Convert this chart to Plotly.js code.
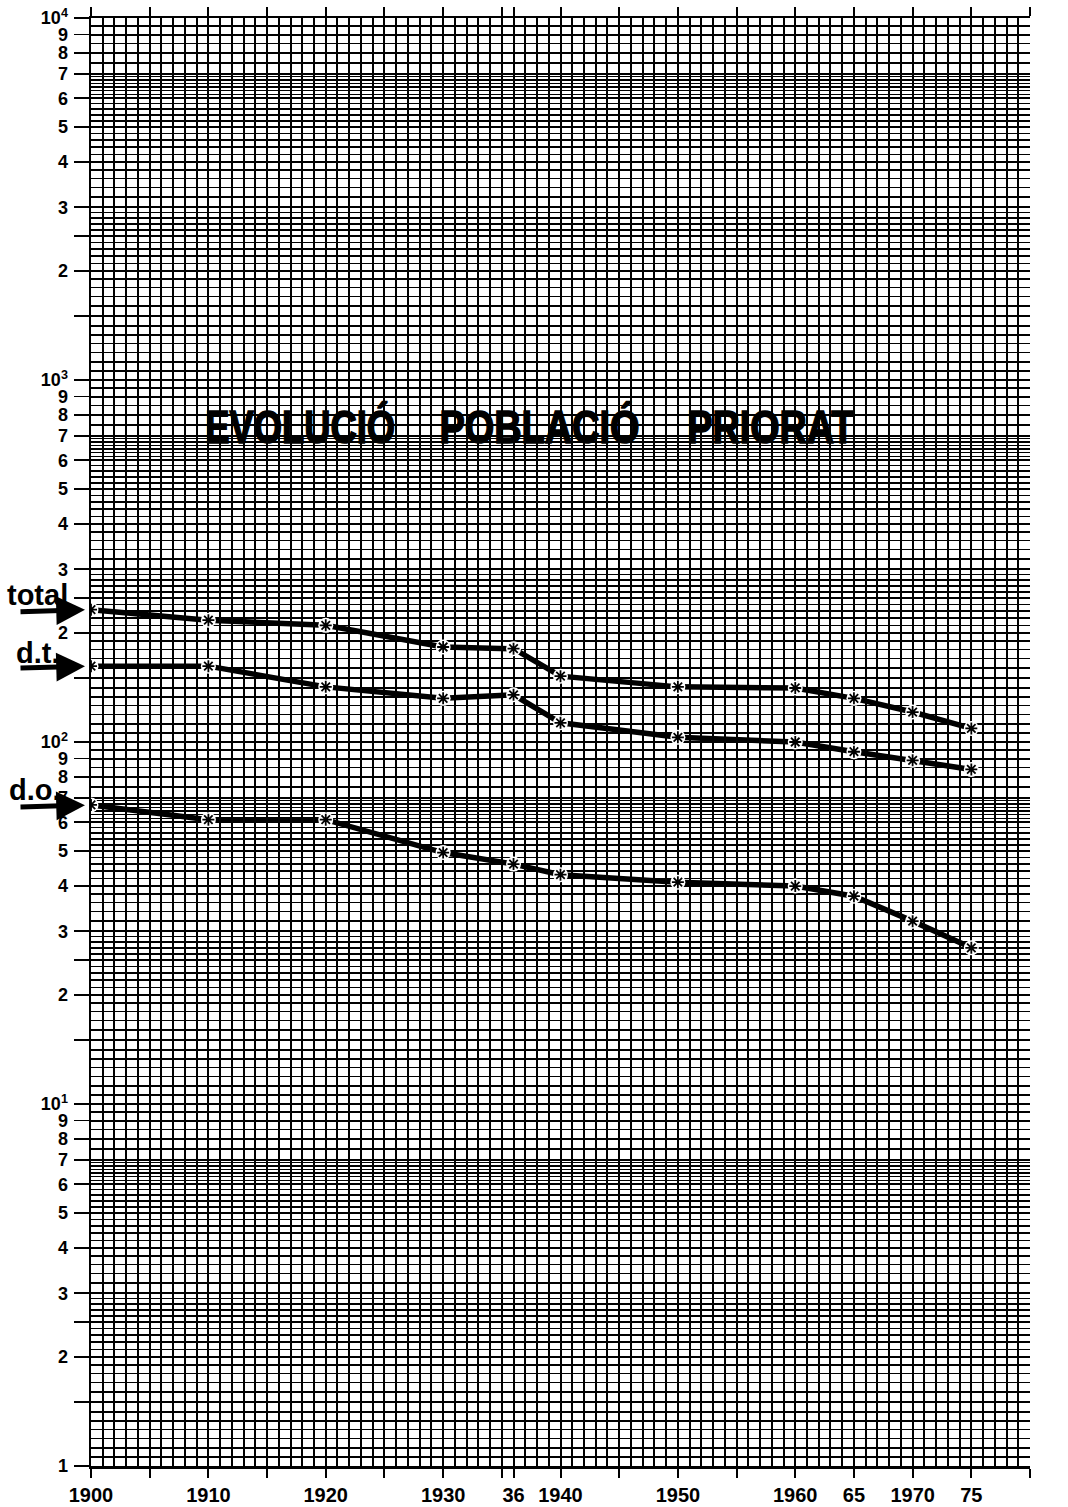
<!DOCTYPE html>
<html><head><meta charset="utf-8">
<script src="https://cdn.plot.ly/plotly-3.0.1.min.js"></script>
<style>html,body{margin:0;padding:0;background:#fff}</style>
</head><body><div id="chart" style="width:1068px;height:1507px"></div>
<script>
// ---- data ----
const years    = [1900, 1910, 1920, 1930, 1936, 1940, 1950, 1960, 1965, 1970, 1975];
const totalPop = [232, 217, 210, 183, 181, 152, 142, 141, 132, 121, 109];
const dtPop    = [162, 162, 142, 132, 135, 113, 103, 100, 94, 89, 84];
const doPop    = [67, 61, 61, 49.5, 46, 43, 41, 40, 37.5, 32, 27];
const seriesLabels = ['total', 'd.t.', 'd.o.'];
const seriesValues = [totalPop, dtPop, doPop];

const xTickVals = [1900,1905,1910,1915,1920,1925,1930,1935,1936,1940,1945,1950,1955,1960,1965,1970,1975,1980];
const xTickText = ['1900','','1910','','1920','','1930','','36','1940','','1950','','1960','65','1970','75',''];
const titleWords = ['EVOLUCIÓ', 'POBLACIÓ', 'PRIORAT'];
const titleWordWidths = [190, 200, 167];
const titleWordX = [0.2226, 0.478, 0.724];
const decadeLabels = ['1', '10<sup>1</sup>', '10<sup>2</sup>', '10<sup>3</sup>', '10<sup>4</sup>'];
const majorMant = [1, 1.5, 2, 2.5, 3, 4, 5, 6, 7, 8, 9];
const minorMant = [1.06,1.12,1.19,1.26,1.33,1.41,1.6,1.7,1.8,1.9,
                   2.1,2.2,2.3,2.4,2.6,2.7,2.8,2.9,
                   3.2,3.4,3.6,3.8,4.2,4.4,4.6,4.8,5.2,5.4,5.6,5.8,
                   6.15,6.3,6.45,6.6,6.75,6.9,7.5,8.5,9.5];

// ---- build y ticks (graph paper) ----
const yTickVals = [], yTickText = [], yMinor = [];
for (let k = 0; k < 4; k++) {
  const base = Math.pow(10, k);
  majorMant.forEach(m => {
    yTickVals.push(+(m * base).toPrecision(6));
    if (m === 1) yTickText.push(decadeLabels[k]);
    else if (m === 1.5 || m === 2.5) yTickText.push('');
    else yTickText.push(String(m));
  });
  minorMant.forEach(m => yMinor.push(+(m * base).toPrecision(6)));
}
yTickVals.push(10000); yTickText.push(decadeLabels[4]);

const FONT = 'Liberation Sans, Arial, Helvetica, sans-serif';

const traces = [];
seriesValues.forEach((vals, i) => {
  traces.push({
    x: years, y: vals, type: 'scatter', mode: 'lines+markers',
    line: {color: '#000', width: 5.5},
    marker: {symbol: 'circle', size: 15, color: '#fff', line: {width: 0}},
    hoverinfo: 'skip', showlegend: false
  });
  traces.push({
    x: years, y: vals, type: 'scatter', mode: 'markers',
    marker: {symbol: 'asterisk-open', size: 10, color: '#000', line: {width: 1.8, color: '#000'}},
    hoverinfo: 'skip', showlegend: false
  });
});

const annotations = [];
titleWords.forEach((w, i) => annotations.push({
  xref: 'paper', yref: 'paper', x: titleWordX[i], y: 0.7175, text: w, showarrow: false,
  xanchor: 'center', yanchor: 'middle',
  font: {family: FONT, size: 46, color: '#000', weight: 700}
}));
const labelShiftX = [-54, -53, -56];
const labelShiftY = [15, 13, 15];
seriesLabels.forEach((lab, i) => {
  annotations.push({
    xref: 'x', yref: 'y', x: years[0], y: Math.log10(seriesValues[i][0]),
    text: lab, showarrow: false, xanchor: 'center', yanchor: 'middle',
    xshift: labelShiftX[i], yshift: labelShiftY[i],
    font: {family: FONT, size: 29, color: '#000', weight: 700}
  });
  annotations.push({
    xref: 'x', yref: 'y', x: years[0], y: Math.log10(seriesValues[i][0]),
    text: '', showarrow: true, ax: -72, ay: 2, arrowhead: 2, arrowsize: 1.15,
    arrowwidth: 5, arrowcolor: '#000', standoff: 6
  });
});

const layout = {
  width: 1068, height: 1507,
  margin: {l: 91, r: 38, t: 18, b: 41},
  paper_bgcolor: '#fff', plot_bgcolor: '#fff',
  showlegend: false,
  xaxis: {
    range: [1900, 1980], tickmode: 'array', tickvals: xTickVals, ticktext: xTickText,
    ticks: 'outside', ticklen: 9, tickwidth: 2, tickcolor: '#000',
    showline: true, linecolor: '#000', linewidth: 2.5, mirror: 'ticks',
    showgrid: false,
    minor: {tickmode: 'linear', tick0: 1900, dtick: 1, showgrid: true, gridcolor: '#000', gridwidth: 2, ticks: ''},
    tickfont: {family: FONT, size: 20, color: '#000', weight: 700},
    zeroline: false, fixedrange: true
  },
  yaxis: {
    type: 'log', range: [0, 4], tickmode: 'array', tickvals: yTickVals, ticktext: yTickText,
    ticks: 'outside', ticklen: 15, tickwidth: 1.8, tickcolor: '#000', ticklabelstandoff: 2,
    showline: true, linecolor: '#000', linewidth: 2.5,
    showgrid: true, gridcolor: '#000', gridwidth: 2,
    minor: {tickmode: 'array', tickvals: yMinor, showgrid: true, gridcolor: '#000', gridwidth: 1.6, ticks: ''},
    tickfont: {family: FONT, size: 18, color: '#000', weight: 700},
    zeroline: false, fixedrange: true
  },
  yaxis2: {
    type: 'log', range: [0, 4], overlaying: 'y', side: 'right', anchor: 'x',
    tickmode: 'array', tickvals: yTickVals, ticktext: yTickText,
    ticks: 'outside', ticklen: 14, tickwidth: 1.8, tickcolor: '#000', ticklabelstandoff: 2,
    showline: true, linecolor: '#000', linewidth: 2.5, showgrid: false,
    tickfont: {family: FONT, size: 18, color: '#000', weight: 700},
    zeroline: false, fixedrange: true
  },
  annotations: annotations
};

Plotly.newPlot('chart', traces, layout, {staticPlot: true, displayModeBar: false}).then(gd => {
  // condense and embolden the title words like the reference's heavy narrow lettering
  const groups = gd.querySelectorAll('.annotation');
  groups.forEach(g => {
    const idx = +g.getAttribute('data-index');
    if (idx < titleWords.length) {
      const t = g.querySelector('text.annotation-text');
      if (t) {
        t.setAttribute('textLength', titleWordWidths[idx]);
        t.setAttribute('lengthAdjust', 'spacingAndGlyphs');
        t.style.stroke = '#000';
        t.style.strokeWidth = '1.6px';
      }
    }
  });
});
</script>
</body></html>
